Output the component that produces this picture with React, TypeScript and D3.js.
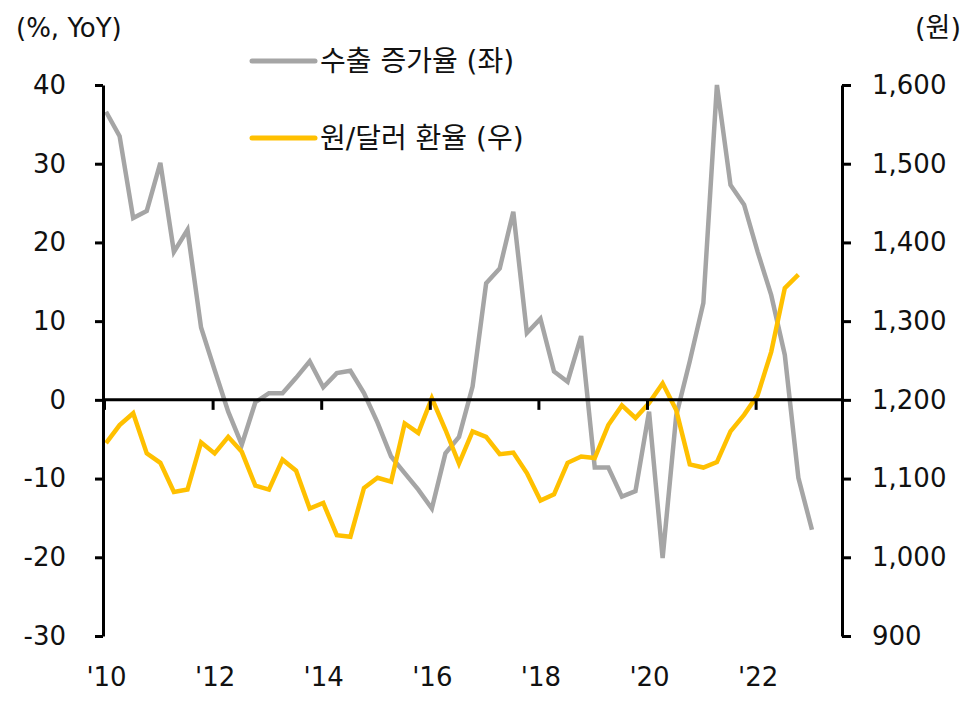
import React, { useRef, useEffect } from "react";
import * as d3 from "d3";

// quarterly, 2010Q1 ~ 2023Q1
const exportGrowth = [
  36.6, 33.5, 23.1, 24.0, 30.1, 18.8, 21.6, 9.2, 3.8, -1.5, -5.7, -0.3, 0.85,
  0.85, 2.8, 4.9, 1.6, 3.4, 3.7, 0.85, -2.9, -7.2, -9.3, -11.4, -13.8, -6.8,
  -4.7, 1.7, 14.8, 16.7, 23.9, 8.5, 10.3, 3.6, 2.3, 8.1, -8.6, -8.6, -12.3,
  -11.6, -1.5, -20.1, -2.0, 4.9, 12.3, 40, 27.3, 24.8, 18.8, 13.3, 5.7, -9.9,
  -16.5,
];

// quarterly, 2010Q1 ~ 2022Q4
const krwUsd = [
  1145, 1168, 1183, 1132, 1120, 1083, 1086, 1146, 1132, 1153, 1134, 1091, 1086,
  1124, 1110, 1062, 1069, 1028, 1026, 1088, 1101, 1096, 1170, 1158, 1202, 1162,
  1119, 1160, 1153, 1131, 1133, 1107, 1072, 1080, 1120, 1128, 1126, 1168, 1193,
  1177, 1196, 1221, 1187, 1118, 1114, 1121, 1160, 1181, 1206, 1261, 1342, 1359,
];

const yearTicks = [2010, 2012, 2014, 2016, 2018, 2020, 2022];
const leftTicks = [-30, -20, -10, 0, 10, 20, 30, 40];
const rightTicks = [900, 1000, 1100, 1200, 1300, 1400, 1500, 1600];

const legendItems = [
  { label: "수출 증가율 (좌)", color: "#A5A5A5" },
  { label: "원/달러 환율 (우)", color: "#FFC000" },
];

const FONT = "'DejaVu Sans', 'Noto Sans CJK KR', sans-serif";

const App: React.FC = () => {
  const chartRef = useRef<SVGSVGElement | null>(null);
  const width = 973;
  const height = 705;

  useEffect(() => {
    if (!chartRef.current) return;
    const svg = d3.select(chartRef.current);
    svg.selectAll("*").remove();

    const left = 103;
    const right = 842;
    const top = 85;
    const bottom = 636;
    const fontSize = 26;

    const x = d3.scaleLinear().domain([2010, 2023.6]).range([104, 842.5]);
    const yL = d3.scaleLinear().domain([-30, 40]).range([bottom, top]);
    const yR = d3.scaleLinear().domain([900, 1600]).range([bottom, top]);
    const t = (i: number) => 2010 + (i + 0.15) / 4;

    // lines
    const lineL = d3
      .line<number>()
      .x((_, i) => x(t(i)))
      .y((d) => yL(d));
    const lineR = d3
      .line<number>()
      .x((_, i) => x(t(i)))
      .y((d) => yR(d));

    svg
      .append("path")
      .datum(exportGrowth)
      .attr("fill", "none")
      .attr("stroke", legendItems[0].color)
      .attr("stroke-width", 4.5)
      .attr("d", lineL);

    svg
      .append("path")
      .datum(krwUsd)
      .attr("fill", "none")
      .attr("stroke", legendItems[1].color)
      .attr("stroke-width", 4.5)
      .attr("d", lineR);

    const styleText = (g: d3.Selection<SVGGElement, unknown, null, undefined>) =>
      g
        .selectAll("text")
        .attr("fill", "#111")
        .style("font-size", fontSize + "px")
        .style("font-family", FONT);

    // x axis along the zero line
    svg
      .append("g")
      .attr("transform", `translate(0,${yL(0)})`)
      .call(
        d3
          .axisBottom(x)
          .tickValues(yearTicks)
          .tickSize(10)
          .tickSizeOuter(0)
          .tickPadding(258)
          .tickFormat((d) => "'" + String(d).slice(2))
      )
      .call((g) => g.select(".domain").attr("d", `M${left},0H${right}`))
      .call((g) => g.selectAll("line, path").attr("stroke", "#000").attr("stroke-width", 3))
      .call(styleText)
      .call((g) => g.selectAll("text").attr("dx", 2));

    // left axis
    svg
      .append("g")
      .attr("transform", `translate(${left},0)`)
      .call(
        d3
          .axisLeft(yL)
          .tickValues(leftTicks)
          .tickSize(8)
          .tickSizeOuter(0)
          .tickPadding(29)
          .tickFormat((d) => String(d))
      )
      .call((g) => g.selectAll("line, path").attr("stroke", "#000").attr("stroke-width", 3))
      .call(styleText);

    // right axis
    svg
      .append("g")
      .attr("transform", `translate(${right},0)`)
      .call(
        d3
          .axisRight(yR)
          .tickValues(rightTicks)
          .tickSize(9)
          .tickSizeOuter(0)
          .tickPadding(21)
          .tickFormat(d3.format(","))
      )
      .call((g) => g.selectAll("line, path").attr("stroke", "#000").attr("stroke-width", 3))
      .call(styleText);

    // unit labels
    svg
      .append("text")
      .attr("x", 16)
      .attr("y", 37)
      .attr("fill", "#111")
      .style("font-size", fontSize + "px")
      .style("font-family", FONT)
      .text("(%, YoY)");

    svg
      .append("text")
      .attr("x", 961)
      .attr("y", 37)
      .attr("text-anchor", "end")
      .attr("fill", "#111")
      .style("font-size", "27px")
      .style("font-family", FONT)
      .text("(원)");

    // legend
    const legend = svg
      .append("g")
      .selectAll("g")
      .data(legendItems)
      .join("g")
      .attr("transform", (_, i) => `translate(252,${61 + i * 77})`);

    legend
      .append("line")
      .attr("x1", 0)
      .attr("x2", 63)
      .attr("stroke", (d) => d.color)
      .attr("stroke-width", 5)
      .attr("stroke-linecap", "round");

    legend
      .append("text")
      .attr("x", 68)
      .attr("dy", "0.35em")
      .attr("fill", "#111")
      .style("font-size", "28px")
      .style("font-family", FONT)
      .text((d) => d.label);
  }, []);

  return (
    <svg
      ref={chartRef}
      width={width}
      height={height}
      style={{ position: "absolute", left: 0, top: 0, background: "#fff" }}
    />
  );
};

export default App;
